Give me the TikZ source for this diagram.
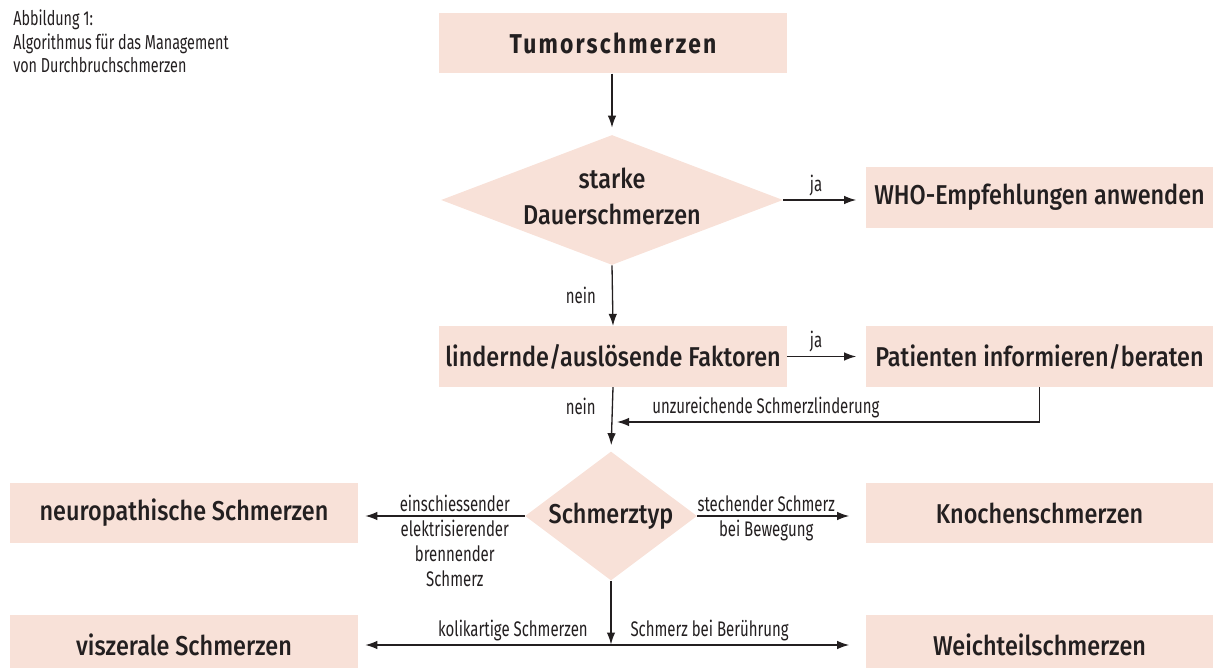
\documentclass[tikz,border=0pt]{standalone}
\usepackage{fontspec}
\setmainfont{Fira Sans}[FakeStretch=0.71]
\newfontfamily\kastenfont{Fira Sans Medium}[FakeStretch=0.86]
\newfontfamily\titelfont{Fira Sans}[FakeStretch=0.84,LetterSpace=8]
\usetikzlibrary{arrows.meta,shapes.geometric}
\definecolor{pfirsich}{RGB}{248,225,216}
\definecolor{dunkel}{RGB}{35,31,32}
\tikzset{
  kasten/.style={fill=pfirsich,minimum width=6.96cm,minimum height=1.21cm,inner sep=0pt,
    text=dunkel,font=\kastenfont\fontsize{15.5}{20}\selectfont},
  raute/.style={diamond,fill=pfirsich,inner sep=0pt},
  pfeil/.style={-{Latex[length=2.4mm,width=1.7mm]},line width=0.75pt,draw=dunkel},
  beschr/.style={text=dunkel,font=\fontsize{12}{14.2}\selectfont,inner sep=2pt,align=center}
}
\begin{document}
\begin{tikzpicture}[x=0.02cm,y=-0.02cm]
      \useasboundingbox (0,0) rectangle (1213,668) ;
      \node[anchor=north west,align=left,text=dunkel,inner sep=0pt,
        font=\fontsize{11.5}{13.6}\selectfont] (titel) at (13,9)
        {Abbildung 1:\\Algorithmus für das Management\\von Durchbruchschmerzen} ;
      \node[kasten,font=\titelfont\bfseries\fontsize{15.5}{20}\selectfont] (tumor) at (613,43) {Tumorschmerzen} ;
      \node[raute,minimum width=6.84cm,minimum height=2.6cm,
        label={[align=center,text=dunkel,yshift=2pt,font=\kastenfont\fontsize{15.5}{20}\selectfont]center:starke\\Dauerschmerzen}] (dauer) at (612,200) {} ;
      \node[kasten] (who) at (1039.5,197.5) {WHO-Empfehlungen anwenden} ;
      \node[kasten] (lindernd) at (613,356.5) {lindernde/auslösende Faktoren} ;
      \node[kasten] (patient) at (1039.5,356.5) {Patienten informieren/beraten} ;
      \node[raute,minimum width=3.44cm,minimum height=2.58cm,
        label={[text=dunkel,font=\kastenfont\fontsize{15.5}{20}\selectfont]center:Schmerztyp}] (typ) at (611,516) {} ;
      \node[kasten] (neuro) at (184,513) {neuropathische Schmerzen} ;
      \node[kasten] (knochen) at (1039.5,513) {Knochenschmerzen} ;
      \node[kasten] (viszeral) at (184,645) {viszerale Schmerzen} ;
      \node[kasten] (weichteil) at (1039.5,645) {Weichteilschmerzen} ;
      \coordinate (knick) at (612,422) ;
      \draw[pfeil,shorten >=1.4mm] (tumor.south -| dauer.north) -- (dauer.north) ;
      \draw[pfeil,shorten >=1.8mm] (dauer.east) -- (dauer.east -| who.west) node[beschr,pos=0.4,above] {ja} ;
      \draw[pfeil] (dauer.south) -- (lindernd.north) node[beschr,midway,left=2.5mm] {nein} ;
      \draw[pfeil,shorten >=1.8mm] (lindernd.east) -- (patient.west) node[beschr,pos=0.37,above] {ja} ;
      \draw[pfeil,shorten >=1.2mm] (lindernd.south) -- (typ.north) node[beschr,pos=0.3,left=2.5mm] {nein} ;
      \draw[pfeil,shorten >=1mm] (patient.south) |- (knick) node[beschr,pos=0.82,above] {unzureichende Schmerzlinderung} ;
      \draw[pfeil,shorten >=1.4mm] (typ.west) -- (typ.west -| neuro.east)
        node[beschr,pos=0.42,above] {einschiessender}
        node[beschr,pos=0.42,below] {elektrisierender\\brennender\\Schmerz} ;
      \draw[pfeil,shorten >=3.2mm] (typ.east) -- (typ.east -| knochen.west)
        node[beschr,pos=0.41,above] {stechender Schmerz}
        node[beschr,pos=0.41,below] {bei Bewegung} ;
      \draw[pfeil,shorten >=0.1mm] (typ.south) -- (typ.south |- viszeral.east) ;
      \draw[pfeil,{Latex[length=2.4mm,width=1.7mm]}-{Latex[length=2.4mm,width=1.7mm]},
        shorten <=1.4mm,shorten >=3.2mm] (viszeral.east) -- (weichteil.west)
        node[beschr,pos=0.305,above] {kolikartige Schmerzen}
        node[beschr,pos=0.693,above] {Schmerz bei Berührung} ;
\end{tikzpicture}
\end{document}
